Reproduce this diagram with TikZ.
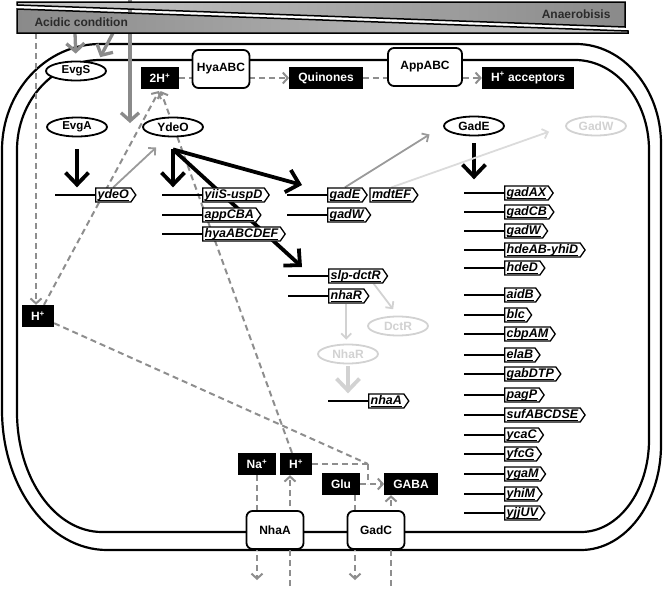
\documentclass[tikz,border=0pt]{standalone}
\usepackage{fontspec}
\setmainfont{Liberation Sans}
\usetikzlibrary{arrows.meta,shapes.geometric,shapes.symbols,positioning}
\definecolor{dgray}{HTML}{8E8E8E}
\definecolor{mgray}{HTML}{9A9A9A}
\definecolor{faint}{HTML}{D2D2D2}
\definecolor{barlight}{HTML}{CACACA}
\definecolor{bardark}{HTML}{8A8A8A}
\definecolor{ink}{HTML}{2B2B2B}
\newcommand{\gn}[1]{\setbox0=\hbox{#1}\rlap{\vrule height -2.2pt depth 3pt width \wd0}\box0}
\pgfdeclarelayer{bg}
\pgfsetlayers{bg,main}

\begin{document}
\begin{tikzpicture}[x=1pt,y=-1pt,
  prot/.style={ellipse,draw,fill=white,line width=1.8pt,minimum width=60pt,
    minimum height=19pt,inner sep=0pt,font=\fontsize{12}{12}\selectfont\bfseries},
  ghost/.style={prot,draw=faint,text=faint},
  ion/.style={fill=black,text=white,minimum height=22pt,inner xsep=9pt,
    inner ysep=0pt,font=\fontsize{12}{12}\selectfont\bfseries},
  pump/.style={draw,fill=white,rounded corners=6pt,line width=1.8pt,
    minimum width=57pt,minimum height=38pt,font=\fontsize{12}{12}\selectfont\bfseries},
  gene/.style={signal,signal to=east,signal pointer angle=110,draw,fill=white,
    line width=1.3pt,inner xsep=2pt,inner ysep=1pt,text height=9pt,text depth=3pt,
    font=\fontsize{12.5}{13}\selectfont\bfseries\itshape},
  prom/.style={gene,anchor=west,
    append after command={(\tikzlastnode.west) edge[line width=1.7pt] ++(-40pt,0)}},
  flow/.style={dgray,line width=2pt,dash pattern=on 6pt off 4pt},
  flowtip/.style={-{Straight Barb[length=5pt,width=11pt]}},
  act/.style={-{Straight Barb[length=12pt,width=23pt]},line width=3.8pt},
  sig/.style={bardark,-{Straight Barb[length=8pt,width=18pt]},line width=3.3pt},
  expr/.style={-{Straight Barb[length=5pt,width=10pt]},line width=1.8pt}]

  \useasboundingbox (0,0) rectangle (670,589);

  % stimulus bars
  \path[draw=black,line width=1.5pt,left color=barlight,right color=bardark]
    (17,2) -- (625,2) -- (625,27) -- (17,5) -- cycle;
  \path[draw=black,line width=1.5pt,left color=bardark,right color=barlight]
    (17,9) -- (628,31) -- (628,33) -- (17,33) -- cycle;
  \node[anchor=west,text=ink,font=\fontsize{12}{12}\selectfont\bfseries] (acidtxt) at (31,22) {Acidic condition};
  \node[anchor=east,text=ink,font=\fontsize{12}{12}\selectfont\bfseries] (anaertxt) at (614,14) {Anaerobisis};
  \coordinate (acidA) at (75,33);
  \coordinate (acidB) at (113,33);
  \coordinate (acidC) at (36,33);
  \coordinate (anaerC) at (130,0);

  % membrane proteins and small molecules
  \node[pump] (HyaABC) at (221,69) {HyaABC};
  \node[pump,minimum width=74pt] (AppABC) at (425,67) {AppABC};
  \node[pump] (NhaA) at (275,530) {NhaA};
  \node[pump] (GadC) at (376,530) {GadC};
  \node[ion] (H2) at (160,78) {2H\textsuperscript{+}};
  \node[ion] (Quin) at (326,78) {Quinones};
  \node[ion] (Hacc) at (528,78) {H\textsuperscript{+} acceptors};
  \node[ion] (Hleft) at (38,316) {H\textsuperscript{+}};
  \node[ion] (Na) at (257,464) {Na\textsuperscript{+}};
  \node[ion] (Hin) at (296,464) {H\textsuperscript{+}};
  \node[ion] (Glu) at (341,484) {Glu};
  \node[ion] (GABA) at (411,484) {GABA};
  \coordinate (jn) at (368,464);
  \coordinate (NaOut) at (257,580);
  \coordinate (HOut) at (290,586);
  \coordinate (GluOut) at (355,580);
  \coordinate (GABAOut) at (391,586);

  % regulators
  \node[prot,font=\fontsize{11.5}{11.5}\selectfont\bfseries] (EvgS) at (76,71) {EvgS};
  \node[prot,font=\fontsize{11.5}{11.5}\selectfont\bfseries] (EvgA) at (77,127) {EvgA};
  \node[prot] (YdeO) at (173,127) {YdeO};
  \node[prot] (GadE) at (474,126) {GadE};
  \node[ghost] (GadW) at (596,126) {GadW};
  \node[ghost] (DctR) at (398,326) {DctR};
  \node[ghost] (NhaR) at (348,354) {NhaR};

  % genes
  \node[prom] (gydeO) at (95,195) {\gn{ydeO}};
  \node[prom] (gyiiS) at (202,195) {\gn{yiiS-uspD}};
  \node[prom] (gappCBA) at (202,215) {\gn{appCBA}};
  \node[prom] (ghya) at (202,234) {\gn{hyaABCDEF}};
  \node[prom] (ggadE) at (327,195) {\gn{gadE}};
  \node[gene,right=1.5pt of ggadE] (gmdtEF) {\gn{mdtEF}};
  \node[prom] (ggadW) at (327,215) {\gn{gadW}};
  \node[prom] (gslp) at (328,276) {\gn{slp-dctR}};
  \node[prom] (gnhaR) at (328,296) {\gn{nhaR}};
  \node[prom] (gnhaA) at (368,401) {\gn{nhaA}};
  \node[prom] (ggadAX) at (504,193) {\gn{gadAX}};
  \node[prom] (ggadCB) at (504,212) {\gn{gadCB}};
  \node[prom] (ggadW2) at (504,231) {\gn{gadW}};
  \node[prom] (ghdeAB) at (504,250) {\gn{hdeAB-yhiD}};
  \node[prom] (ghdeD) at (504,268) {\gn{hdeD}};
  \node[prom] (gaidB) at (504,295) {\gn{aidB}};
  \node[prom] (gblc) at (504,315) {\gn{blc}};
  \node[prom] (gcbpAM) at (504,334) {\gn{cbpAM}};
  \node[prom] (gelaB) at (504,355) {\gn{elaB}};
  \node[prom] (ggabDTP) at (504,374) {\gn{gabDTP}};
  \node[prom] (gpagP) at (504,395) {\gn{pagP}};
  \node[prom] (gsuf) at (504,415) {\gn{sufABCDSE}};
  \node[prom] (gycaC) at (504,435) {\gn{ycaC}};
  \node[prom] (gyfcG) at (504,454) {\gn{yfcG}};
  \node[prom] (gygaM) at (504,474) {\gn{ygaM}};
  \node[prom] (gyhiM) at (504,494) {\gn{yhiM}};
  \node[prom] (gyjjUV) at (504,513) {\gn{yjjUV}};

  \begin{pgfonlayer}{bg}
  % double membrane
  \draw[line width=2.2pt] (100,44) -- (576,44)
    arc[start angle=270,end angle=360,x radius=85,y radius=100] -- (661,445)
    arc[start angle=0,end angle=90,x radius=80,y radius=105] -- (107,550)
    arc[start angle=90,end angle=180,x radius=105,y radius=140] -- (2,150)
    arc[start angle=180,end angle=270,x radius=98,y radius=106] -- cycle;
  \draw[line width=2.2pt] (100,60) -- (575,60)
    arc[start angle=270,end angle=360,x radius=74,y radius=90] -- (649,440)
    arc[start angle=0,end angle=90,x radius=68,y radius=92] -- (102,532)
    arc[start angle=90,end angle=180,x radius=85,y radius=120] -- (17,150)
    arc[start angle=180,end angle=270,x radius=83,y radius=90] -- cycle;

  % proton and metabolite flow
  \path[flow]
    (acidC) edge[flowtip] (acidC |- Hleft.north)
    (Hleft) edge[flowtip,shorten >=2pt] (H2.south)
    (Hin) edge[flowtip,shorten >=2pt] (H2.south)
    (Hleft) edge (jn)
    (Hin) edge (jn)
    (jn) edge (jn |- GABA)
    (Glu) edge[flowtip] (GABA)
    (H2) edge[flowtip] (Quin)
    (Quin) edge[flowtip] (Hacc)
    (Na) edge[flowtip] (NaOut)
    (HOut) edge[flowtip] (HOut |- Hin.south)
    (GluOut |- Glu.south) edge[flowtip] (GluOut)
    (GABAOut) edge[flowtip] (GABAOut |- GABA.south);

  % signals and regulation
  \draw[sig,shorten >=7pt] (acidA) -- (EvgS.north);
  \draw[sig,shorten >=7pt] (acidB) -- (EvgS.20);
  \draw[sig,shorten >=4pt] (anaerC) -- (anaerC |- YdeO.west);
  \draw[act,shorten <=12pt] (EvgA.south) -- (EvgA.south |- gydeO.north);
  \draw[act] ([yshift=-12pt]YdeO.south) -- (YdeO.south |- gyiiS.north);
  \draw[act] ([yshift=-12pt]YdeO.south) -- ([xshift=-25pt,yshift=10pt]ggadE.west);
  \draw[act] ([yshift=-12pt]YdeO.south) -- ([xshift=-26pt,yshift=9pt]gslp.west);
  \draw[act,shorten <=7pt,shorten >=6pt] (GadE.south) -- (GadE.south |- ggadAX.north);
  \draw[act,faint,shorten <=2pt] (NhaR.south) -- (NhaR.south |- gnhaA.north);
  \draw[expr,mgray,shorten >=15pt] (gydeO.north) -- (YdeO.240);
  \draw[expr,mgray,shorten >=16pt] (ggadE.north) -- (GadE.west);
  \draw[expr,faint!80!white,shorten >=17pt] (gmdtEF.north) -- (GadW.west);
  \draw[expr,faint,shorten >=8pt] ([xshift=18pt]gslp.south) -- (DctR.north);
  \draw[expr,faint,shorten >=4pt] (gnhaR.south) -- (gnhaR.south |- NhaR.north);
  \end{pgfonlayer}
\end{tikzpicture}
\end{document}
